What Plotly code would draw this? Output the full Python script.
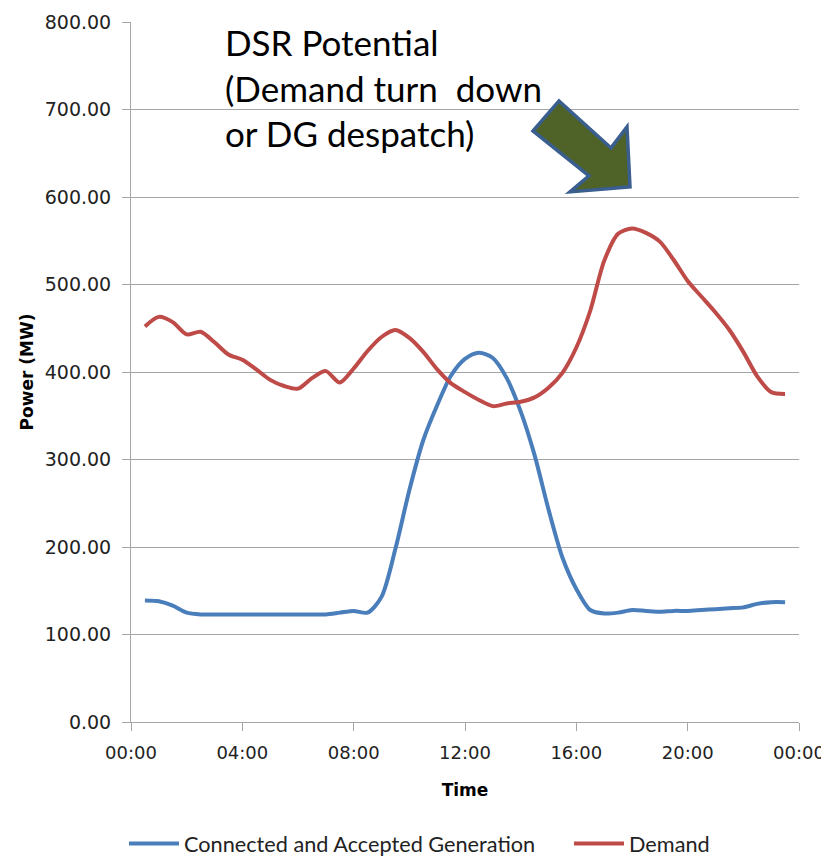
import plotly.graph_objects as go

hours = [0.5 + 0.5 * i for i in range(47)]

generation = [139, 138, 133, 125, 123, 123, 123, 123, 123, 123, 123, 123, 123, 123,
              125, 127, 125, 143, 198, 265, 322, 362, 396, 415, 422, 416, 393, 355,
              305, 243, 188, 152, 128, 124, 125, 128, 127, 126, 127, 127, 128, 129,
              130, 131, 135, 137, 137]

demand = [452, 463, 457, 443, 446, 434, 420, 414, 403, 391, 384, 381, 393, 401,
          388, 404, 424, 440, 448, 439, 423, 403, 387, 377, 368, 361, 364, 366,
          371, 382, 399, 428, 470, 527, 558, 564, 559, 549, 528, 504, 486, 468,
          448, 423, 395, 377, 375]

tick_hours = [0, 4, 8, 12, 16, 20, 24]
tick_labels = ["00:00", "04:00", "08:00", "12:00", "16:00", "20:00", "00:00"]
y_ticks = [0, 100, 200, 300, 400, 500, 600, 700, 800]

# page body adds an 8px offset; figure coordinates = screen - 8
OFF = 8
W, H = 829 - OFF, 862 - OFF
SL, SR, ST, SB = 131, 799, 22, 722.5  # plot area in screen pixels

fig = go.Figure()
fig.add_trace(go.Scatter(x=hours, y=generation, mode="lines",
                         name="Connected and Accepted Generation", legend="legend",
                         line=dict(color="#4a7ebb", width=4, shape="spline", smoothing=0.8)))
fig.add_trace(go.Scatter(x=hours, y=demand, mode="lines", name="Demand", legend="legend2",
                         line=dict(color="#be4b48", width=4, shape="spline", smoothing=0.8)))


def px2paper(px, py):
    return (px - SL) / (SR - SL), (SB - py) / (SB - ST)


arrow_px = [(533, 131), (559, 101), (611, 148), (627, 127), (630, 187), (570, 192), (589, 176)]
pts = [px2paper(a, b) for a, b in arrow_px]
path = "M " + " L ".join(f"{x:.4f},{y:.4f}" for x, y in pts) + " Z"
fig.add_shape(type="path", path=path, xref="paper", yref="paper",
              fillcolor="#4f6228", line=dict(color="#3a5f8f", width=3.5))

ax, ay = px2paper(223, 19)
fig.add_annotation(text="DSR Potential<br>(Demand turn&nbsp; down<br>or DG despatch)",
                   xref="paper", yref="paper", x=ax, y=ay, xanchor="left", yanchor="top",
                   showarrow=False, align="left",
                   font=dict(family="Lato, Open Sans, sans-serif", size=35, color="#000000"))

legend_font = dict(family="Lato, sans-serif", size=21.7, color="#222222")
legend_y = 1 - (844 - OFF) / H

fig.update_layout(
    width=W, height=H,
    margin=dict(l=SL - OFF, r=W - (SR - OFF), t=ST - OFF, b=H - (SB - OFF)),
    paper_bgcolor="white", plot_bgcolor="white",
    showlegend=True,
    legend=dict(orientation="h", xref="container", yref="container",
                x=(124 - OFF) / W, xanchor="left", y=legend_y, yanchor="middle",
                font=legend_font, itemwidth=50),
    legend2=dict(orientation="h", xref="container", yref="container",
                 x=(569 - OFF) / W, xanchor="left", y=legend_y, yanchor="middle",
                 font=legend_font, itemwidth=50),
    xaxis=dict(range=[0, 24], tickvals=tick_hours, ticktext=tick_labels,
               showgrid=False, showline=True, linecolor="#a6a6a6", linewidth=1,
               ticks="outside", ticklen=8, tickcolor="#a6a6a6", ticklabelstandoff=6,
               tickfont=dict(family="DejaVu Sans, sans-serif", size=18, color="#222222"),
               title=dict(text="<b>Time</b>", standoff=22,
                          font=dict(family="DejaVu Sans, sans-serif", size=17, color="#000000")),
               zeroline=False, automargin=False),
    yaxis=dict(range=[0, 800], tickvals=y_ticks, tickformat=".2f",
               showgrid=True, gridcolor="#a6a6a6", gridwidth=1,
               showline=True, linecolor="#a6a6a6", linewidth=1,
               ticks="outside", ticklen=8, tickcolor="#a6a6a6", ticklabelstandoff=7,
               tickfont=dict(family="DejaVu Sans, sans-serif", size=19, color="#222222"),
               title=dict(text="<b>Power (MW)</b>", standoff=6,
                          font=dict(family="DejaVu Sans, sans-serif", size=17, color="#000000")),
               zeroline=False, automargin=False),
)

fig.write_html("out.html")
